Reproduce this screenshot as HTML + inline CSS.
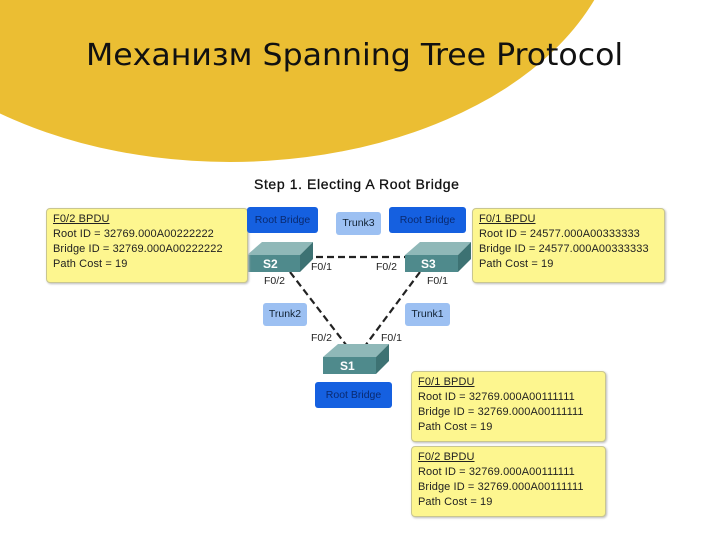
<!DOCTYPE html>
<html><head><meta charset="utf-8"><style>
body{margin:0;width:720px;height:540px;overflow:hidden;background:#fff;font-family:"Liberation Sans",sans-serif;position:relative}
.a{position:absolute}
.y{position:absolute;background:#fdf68f;border:1px solid #c9c690;border-radius:4px;box-shadow:1px 1px 2px #bbb;font-size:11px;line-height:15px;color:#222;padding:3px 0 0 6px;box-sizing:border-box;letter-spacing:0.1px}
.y u{text-decoration:underline}
.rb{position:absolute;background:#1560e0;border-radius:3px;color:#0a2a70;font-size:10.5px;text-align:center;line-height:26px;height:26px}
.tr{position:absolute;background:#9cc0f2;border-radius:3px;color:#123;font-size:10.5px;text-align:center;line-height:23px;height:23px}
.l{position:absolute;font-size:10.5px;color:#222}
</style></head><body>
<svg class="a" style="left:0;top:0" width="720" height="540">
<ellipse cx="230" cy="-90" rx="390" ry="252" fill="#ebbe33"/>
<g stroke="#222" stroke-width="2.2" stroke-dasharray="7,4" fill="none">
<line x1="305" y1="257" x2="415" y2="257"/>
<line x1="290" y1="272" x2="350" y2="350"/>
<line x1="420" y1="272" x2="362" y2="350"/>
</g>
<polygon points="247,255 262,242 313,242 300,255" fill="#8fb8b8"/>
<rect x="247" y="255" width="53" height="17" fill="#4f8a8c"/>
<polygon points="300,255 313,242 313,259 300,272" fill="#3d7273"/>
<text x="263" y="268" fill="#fff" font-size="12" font-weight="bold" font-family="Liberation Sans">S2</text>
<polygon points="405,255 420,242 471,242 458,255" fill="#8fb8b8"/>
<rect x="405" y="255" width="53" height="17" fill="#4f8a8c"/>
<polygon points="458,255 471,242 471,259 458,272" fill="#3d7273"/>
<text x="421" y="268" fill="#fff" font-size="12" font-weight="bold" font-family="Liberation Sans">S3</text>
<polygon points="323,357 338,344 389,344 376,357" fill="#8fb8b8"/>
<rect x="323" y="357" width="53" height="17" fill="#4f8a8c"/>
<polygon points="376,357 389,344 389,361 376,374" fill="#3d7273"/>
<text x="340" y="370" fill="#fff" font-size="12" font-weight="bold" font-family="Liberation Sans">S1</text>
</svg>
<div class="a" style="left:86px;top:38px;font-size:30px;color:#111;font-family:'DejaVu Sans Condensed','DejaVu Sans',sans-serif;transform:scaleX(1.17);transform-origin:0 0;white-space:nowrap">Механизм Spanning Tree Protocol</div>
<div class="a" style="left:254px;top:176px;font-size:14px;color:#111;letter-spacing:0.6px;white-space:nowrap;-webkit-text-stroke:0.3px #111">Step 1. Electing A Root Bridge</div>
<div class="y" style="left:46px;top:208px;width:202px;height:75px"><u>F0/2 BPDU</u><br>Root ID = 32769.000A00222222<br>Bridge ID = 32769.000A00222222<br>Path Cost = 19</div>
<div class="y" style="left:472px;top:208px;width:193px;height:75px"><u>F0/1 BPDU</u><br>Root ID = 24577.000A00333333<br>Bridge ID = 24577.000A00333333<br>Path Cost = 19</div>
<div class="y" style="left:411px;top:371px;width:195px;height:71px"><u>F0/1 BPDU</u><br>Root ID = 32769.000A00111111<br>Bridge ID = 32769.000A00111111<br>Path Cost = 19</div>
<div class="y" style="left:411px;top:446px;width:195px;height:71px"><u>F0/2 BPDU</u><br>Root ID = 32769.000A00111111<br>Bridge ID = 32769.000A00111111<br>Path Cost = 19</div>
<div class="rb" style="left:247px;top:207px;width:71px">Root Bridge</div>
<div class="rb" style="left:389px;top:207px;width:77px">Root Bridge</div>
<div class="rb" style="left:315px;top:382px;width:77px">Root Bridge</div>
<div class="tr" style="left:336px;top:212px;width:45px">Trunk3</div>
<div class="tr" style="left:263px;top:303px;width:44px">Trunk2</div>
<div class="tr" style="left:405px;top:303px;width:45px">Trunk1</div>
<div class="l" style="left:311px;top:261px">F0/1</div>
<div class="l" style="left:376px;top:261px">F0/2</div>
<div class="l" style="left:264px;top:275px">F0/2</div>
<div class="l" style="left:427px;top:275px">F0/1</div>
<div class="l" style="left:311px;top:332px">F0/2</div>
<div class="l" style="left:381px;top:332px">F0/1</div>
</body></html>
